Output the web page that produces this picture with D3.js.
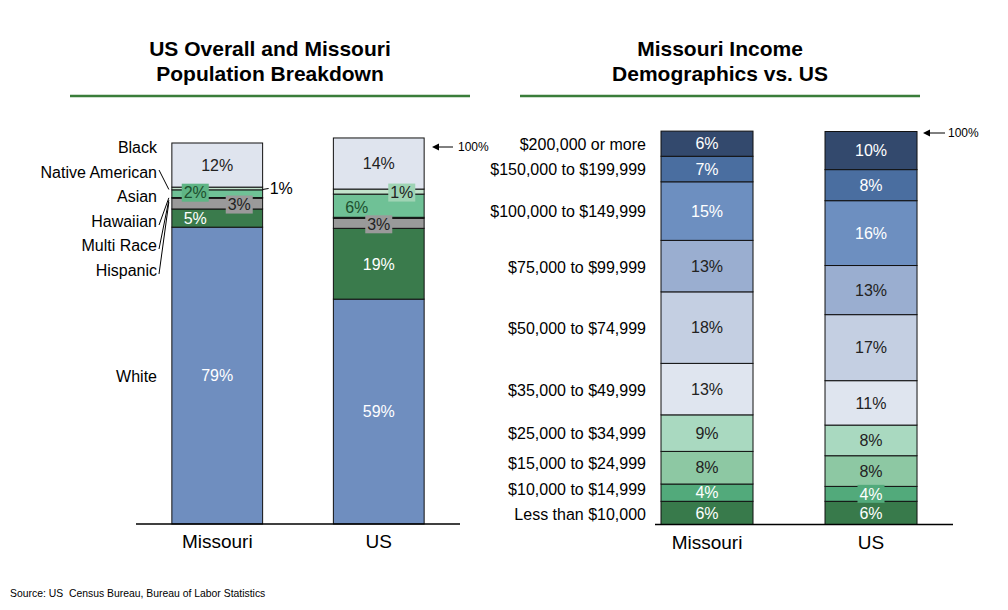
<!DOCTYPE html>
<html><head><meta charset="utf-8">
<script src="https://cdn.jsdelivr.net/npm/d3@7"></script>
<style>body{margin:0;background:#fff}svg{font-family:"Liberation Sans",Arial,sans-serif}</style>
</head><body><svg id="c" width="1008" height="610"></svg>
<script>
// ---------- DATA ----------
const popGroups = ["White","Hispanic","Multi Race","Hawaiian","Asian","Native American","Black"];
const popBars = ["Missouri","US"];
const popMissouri = [76.7, 4.7, 2.8, 0.15, 2.0, 0.7, 11.4];
const popUS = [58.1, 18.3, 2.6, 0.25, 6.0, 1.3, 13.2];
const popLabelsMissouri = ["79%","5%","3%","","2%","1%","12%"];
const popLabelsUS = ["59%","19%","3%","","6%","1%","14%"];
const popColors = ["#6f8ebf","#3a7b4c","#9a9a9a","#222222","#6fc196","#c2e3cc","#dfe4ee"];

const incGroups = ["Less than $10,000","$10,000 to $14,999","$15,000 to $24,999","$25,000 to $34,999","$35,000 to $49,999","$50,000 to $74,999","$75,000 to $99,999","$100,000 to $149,999","$150,000 to $199,999","$200,000 or more"];
const incBars = ["Missouri","US"];
const incMissouri = [5.9, 4.4, 8.3, 9.3, 13.1, 18.2, 13.1, 14.9, 6.5, 6.4];
const incUS = [5.9, 3.8, 7.8, 7.8, 11.3, 16.8, 12.5, 16.5, 7.9, 9.7];
const incLabelsMissouri = ["6%","4%","8%","9%","13%","18%","13%","15%","7%","6%"];
const incLabelsUS = ["6%","4%","8%","8%","11%","17%","13%","16%","8%","10%"];
const incColors = ["#387a4b","#52aa7b","#8dc8a3","#a9d9c0","#dfe5ef","#c4cfe2","#9aaed0","#6d8fc0","#4a6ea0","#33496d"];
const incTextDark = [false,false,true,true,true,true,true,false,false,false];

// ---------- DRAW ----------
const svg = d3.select("#c");
const barLayer = svg.append("g");
const labelLayer = svg.append("g");

function title(lines, cx, lineX1, lineX2){
  lines.forEach((t,i)=>svg.append("text").attr("x",cx).attr("y",56+i*25)
    .attr("text-anchor","middle").attr("font-weight","bold").attr("font-size",21).attr("fill","#000").text(t));
  svg.append("line").attr("x1",lineX1).attr("x2",lineX2).attr("y1",96).attr("y2",96)
    .attr("stroke","#3a7d3a").attr("stroke-width",2.5);
}
title(["US Overall and Missouri","Population Breakdown"],270,70,470);
title(["Missouri Income","Demographics vs. US"],720,520,920);

function stack(vals){let acc=0;return vals.map(v=>{const s={y0:acc,y1:acc+v,v};acc+=v;return s;});}

function pct(x,y,t,color,bg){
  if(bg){
    const w = t.length*9+9, h = 18;
    labelLayer.append("rect").attr("x",x-w/2).attr("y",y-h/2).attr("width",w).attr("height",h).attr("fill",bg);
  }
  labelLayer.append("text").attr("x",x).attr("y",y).attr("dy","0.36em").attr("text-anchor","middle")
    .attr("font-size",16).attr("fill",color).text(t);
}

// ---- Left chart ----
const xL = d3.scaleBand().domain(popBars).range([136,460]).paddingInner(0.438).paddingOuter(0.222);
const yL = d3.scaleLinear().domain([0,100]).range([524,137]);
const popData = {Missouri:stack(popMissouri), US:stack(popUS)};
popBars.forEach(b=>{
  barLayer.append("g").selectAll("rect").data(popData[b]).join("rect")
    .attr("x",xL(b)).attr("width",xL.bandwidth())
    .attr("y",d=>yL(d.y1)).attr("height",d=>yL(d.y0)-yL(d.y1))
    .attr("fill",(d,i)=>popColors[i]).attr("stroke","#111").attr("stroke-width",1);
});
svg.append("line").attr("x1",136).attr("x2",460).attr("y1",yL(0)).attr("y2",yL(0)).attr("stroke","#000").attr("stroke-width",1.3);
popBars.forEach(b=>svg.append("text").attr("x",xL(b)+xL.bandwidth()/2).attr("y",yL(0)+24)
  .attr("text-anchor","middle").attr("font-size",19).text(b));

const mo = popData.Missouri, us = popData.US;
const cM = xL("Missouri")+xL.bandwidth()/2, cU = xL("US")+xL.bandwidth()/2;
const mid = s=>yL((s.y0+s.y1)/2);
// Missouri labels
pct(cM, mid(mo[0]), popLabelsMissouri[0], "#fff");
pct(cM-22, mid(mo[1]), popLabelsMissouri[1], "#fff");
pct(cM+22, mid(mo[2])+1, popLabelsMissouri[2], "#222", "#9a9a9a");
pct(cM-22, mid(mo[4])-1, popLabelsMissouri[4], "#1d4f2e", "#5fb585");
pct(cM, mid(mo[6]), popLabelsMissouri[6], "#222");
// 1% outside
svg.append("line").attr("x1",xL("Missouri")+xL.bandwidth()).attr("x2",xL("Missouri")+xL.bandwidth()+6)
  .attr("y1",mid(mo[5])+1).attr("y2",mid(mo[5])).attr("stroke","#000");
svg.append("text").attr("x",xL("Missouri")+xL.bandwidth()+7).attr("y",mid(mo[5])).attr("dy","0.36em")
  .attr("font-size",16).text(popLabelsMissouri[5]);
// US labels
pct(cU, mid(us[0]), popLabelsUS[0], "#fff");
pct(cU, mid(us[1]), popLabelsUS[1], "#fff");
pct(cU, mid(us[2])+1, popLabelsUS[2], "#222", "#9a9a9a");
pct(cU-22, mid(us[4])+2, popLabelsUS[4], "#1d4f2e");
pct(cU+23, mid(us[5])+1, popLabelsUS[5], "#222", "#9fd4b4");
pct(cU, mid(us[6]), popLabelsUS[6], "#222");

// group labels on left
const labX = 157, tgtX = xL("Missouri")-3;
const popLab = [
  {i:6, y:147, line:false},
  {i:5, y:172, line:true, ty:mid(mo[5])+1},
  {i:4, y:196, line:false},
  {i:3, y:221, line:true, ty:mid(mo[3])},
  {i:2, y:245, line:true, ty:yL(mo[2].y1)+2},
  {i:1, y:270, line:true, ty:yL(mo[2].y1)+4},
  {i:0, y:376, line:false}
];
popLab.forEach(l=>{
  svg.append("text").attr("x",labX).attr("y",l.y).attr("dy","0.36em").attr("text-anchor","end")
    .attr("font-size",16).text(popGroups[l.i]);
  if(l.line){
    svg.append("line").attr("x1",labX+2).attr("y1",l.y+(l.i===5?-2:4)).attr("x2",tgtX).attr("y2",l.ty)
      .attr("stroke","#000").attr("stroke-width",1);
  }
});

// 100% arrows
function arrow(x1,x2,y,tx){
  svg.append("line").attr("x1",x1+5).attr("x2",x2).attr("y1",y).attr("y2",y).attr("stroke","#000").attr("stroke-width",1);
  svg.append("path").attr("d",`M${x1},${y}L${x1+7},${y-3.5}L${x1+7},${y+3.5}Z`).attr("fill","#000");
  svg.append("text").attr("x",tx).attr("y",y).attr("dy","0.36em").attr("font-size",12).text("100%");
}
arrow(432,453,147,458);

// ---- Right chart ----
const xR = d3.scaleBand().domain(incBars).range([655,953]).paddingInner(0.439).paddingOuter(0.128).align(0.143);
const yR = d3.scaleLinear().domain([0,100]).range([524.5,131.5]);
const incData = {Missouri:stack(incMissouri), US:stack(incUS)};
const incLab = {Missouri:incLabelsMissouri, US:incLabelsUS};
incBars.forEach(b=>{
  barLayer.append("g").selectAll("rect").data(incData[b]).join("rect")
    .attr("x",xR(b)).attr("width",xR.bandwidth())
    .attr("y",d=>yR(d.y1)).attr("height",d=>yR(d.y0)-yR(d.y1))
    .attr("fill",(d,i)=>incColors[i]).attr("stroke","#111").attr("stroke-width",1);
  incData[b].forEach((d,i)=>{
    const y = yR((d.y0+d.y1)/2);
    const bg = (b==="US" && i===1) ? "#52aa7b" : null;
    pct(xR(b)+xR.bandwidth()/2, y, incLab[b][i], incTextDark[i] ? "#222" : "#fff", bg);
  });
});
svg.append("line").attr("x1",655).attr("x2",953).attr("y1",yR(0)).attr("y2",yR(0)).attr("stroke","#000").attr("stroke-width",1.3);
incBars.forEach(b=>svg.append("text").attr("x",xR(b)+xR.bandwidth()/2).attr("y",yR(0)+24)
  .attr("text-anchor","middle").attr("font-size",19).text(b));
const incOff = [1,-3,-4,0,1,1,1,0,0,1];
incData.Missouri.forEach((d,i)=>{
  svg.append("text").attr("x",646).attr("y",yR((d.y0+d.y1)/2)+incOff[i]).attr("dy","0.36em")
    .attr("text-anchor","end").attr("font-size",16).text(incGroups[i]);
});
arrow(923,945,133,948);

// source
svg.append("text").attr("x",10).attr("y",597).attr("font-size",10.4).style("white-space","pre")
  .text("Source: US  Census Bureau, Bureau of Labor Statistics");
</script></body></html>
